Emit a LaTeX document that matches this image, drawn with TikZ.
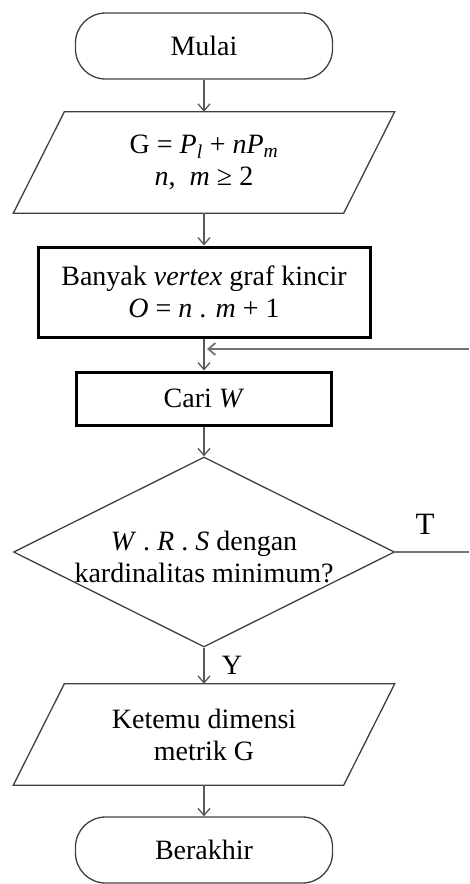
\documentclass[tikz,border=0pt]{standalone}
\usepackage{fontspec}
\setmainfont{Liberation Serif}
\usetikzlibrary{shapes.geometric,arrows.meta,calc}

\begin{document}
\begin{tikzpicture}[x=1pt,y=-1pt,
  txt/.style={font=\fontsize{28}{32}\selectfont, align=center, inner sep=0pt},
  thinline/.style={draw=black!75, line width=1.3pt},
  term/.style={thinline, rectangle, rounded corners=30pt, minimum width=257pt, minimum height=66pt, txt},
  procbox/.style={draw=black, line width=3pt, rectangle, txt},
  iobox/.style={rectangle, minimum width=330pt, minimum height=101pt, txt},
  flow/.style={draw=black!65, line width=1.3pt, -{Straight Barb[length=7pt,width=12pt]}},
]
\useasboundingbox (0,0) rectangle (469,884);

% start / end terminals
\node[term] (mulai) at (204,46) {Mulai};
\node[term] (akhir) at (204,850) {Berakhir};

% input parallelogram
\node[iobox] (in1) at (204,162.5) {G = \textit{P}\textsubscript{\textit{l}} + \textit{nP}\textsubscript{\textit{m}}\\ \textit{n}, \ \textit{m} ≥ 2};
\draw[thinline] ($(in1.north west)+(25.5,0)$) -- ($(in1.north east)+(25.5,0)$)
  -- ($(in1.south east)+(-25.5,0)$) -- ($(in1.south west)+(-25.5,0)$) -- cycle;

% process boxes
\node[procbox, minimum width=332pt, minimum height=90pt] (box1) at (204,292)
  {Banyak \textit{vertex} graf kincir\\ \textit{O} = \textit{n} . \textit{m} + 1};
\node[procbox, minimum width=255pt, minimum height=53pt] (cari) at (204,398.5) {Cari \textit{W}};

% decision
\node[diamond, thinline, minimum width=381pt, minimum height=190pt, inner sep=0pt] (dec) at (204,552) {};
\node[txt] (dectxt) at (204,557) {\textit{W} . \textit{R} . \textit{S} dengan\\ kardinalitas minimum?};

% output parallelogram
\node[iobox] (out) at (204,734.5) {Ketemu dimensi\\ metrik G};
\draw[thinline] ($(out.north west)+(25.5,0)$) -- ($(out.north east)+(25.5,0)$)
  -- ($(out.south east)+(-25.5,0)$) -- ($(out.south west)+(-25.5,0)$) -- cycle;

% branch labels
\node[txt] (ylab) at (232,665) {Y};
\node[txt, font=\fontsize{31}{32}\selectfont] (tlab) at (425,524) {T};

% connectors
\draw[flow] (mulai) -- (in1);
\draw[flow] (in1) -- (box1);
\draw[flow] (box1) -- (cari);
\draw[flow] (cari) -- (dec);
\draw[flow] (dec) -- (out);
\draw[flow] (out) -- (akhir);

% loop back from the "T" branch
\coordinate (tEnd) at (469,552);
\coordinate (loopIn) at (469,349);
\coordinate (loopJoin) at (207,349);
\draw[draw=black!55, line width=1.6pt] (dec.east) -- (tEnd);
\draw[flow, draw=black!55, line width=1.8pt] (loopIn) -- (loopJoin);
\end{tikzpicture}
\end{document}
